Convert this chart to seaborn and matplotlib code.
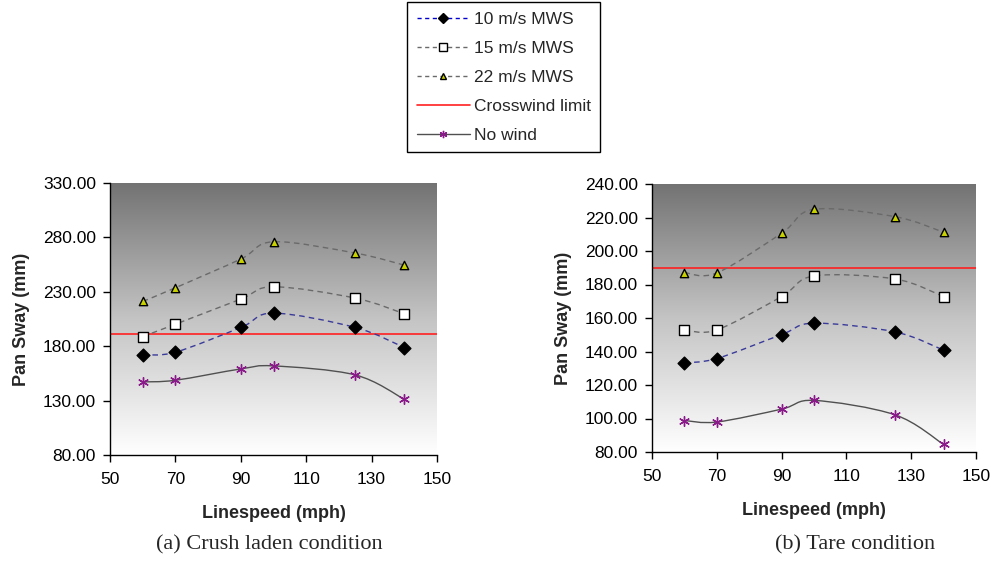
import numpy as np
import matplotlib
matplotlib.use("Agg")
import matplotlib.pyplot as plt
import seaborn as sns
import pandas as pd
from matplotlib.path import Path
from matplotlib.patches import PathPatch
from matplotlib.lines import Line2D
from matplotlib.colors import LinearSegmentedColormap
from matplotlib.ticker import FormatStrFormatter

sns.set_style("white")
plt.rcParams["font.family"] = ["Liberation Sans", "DejaVu Sans"]

linespeed = [60, 70, 90, 100, 125, 140]

crush_10 = [172.0, 174.5, 197.2, 210.4, 197.2, 178.8]
crush_15 = [188.9, 200.2, 223.3, 234.6, 224.2, 209.8]
crush_22 = [221.1, 233.7, 260.1, 276.0, 265.6, 254.5]
crush_nowind = [147.2, 148.7, 159.1, 161.9, 153.6, 131.2]
crush_limit = 191.0

tare_10 = [133.2, 135.8, 150.1, 156.9, 151.7, 140.8]
tare_15 = [152.9, 152.9, 172.8, 185.1, 183.3, 172.8]
tare_22 = [187.1, 186.9, 210.6, 224.9, 220.5, 211.2]
tare_nowind = [98.8, 97.9, 105.6, 110.8, 102.2, 84.5]
tare_limit = 190.0

x_ticks = [50, 70, 90, 110, 130, 150]
crush_yticks = [80, 130, 180, 230, 280, 330]
tare_yticks = [80, 100, 120, 140, 160, 180, 200, 220, 240]

series_labels = ["10 m/s MWS", "15 m/s MWS", "22 m/s MWS", "Crosswind limit", "No wind"]
captions = ["(a) Crush laden condition", "(b) Tare condition"]

C10 = "#3a3a9a"
CGRAY = "#6a6a6a"
CRED = "#ff2020"
CPURPLE = "#8a1a8a"

styles = {
    "10 m/s MWS": dict(line=C10, ls=(0, (4, 3)), marker="D", mfc="black", mec="black", ms=6.5),
    "15 m/s MWS": dict(line=CGRAY, ls=(0, (4, 3)), marker="s", mfc="white", mec="black", ms=7.5),
    "22 m/s MWS": dict(line=CGRAY, ls=(0, (4, 3)), marker="^", mfc="#c8d200", mec="black", ms=6),
    "No wind": dict(line="#505050", ls="-", marker=(6, 2, 0), mfc=CPURPLE, mec=CPURPLE, ms=7),
}


def smooth_path(x, y):
    """Excel-style smoothed line as cubic Bezier path through the data points."""
    pts = np.column_stack([x, y]).astype(float)
    n = len(pts)
    verts = [pts[0]]
    codes = [Path.MOVETO]
    for i in range(n - 1):
        p0 = pts[i - 1] if i > 0 else pts[i]
        p1 = pts[i]
        p2 = pts[i + 1]
        p3 = pts[i + 2] if i + 2 < n else pts[i + 1]
        c1 = p1 + (p2 - p0) / 6.0
        c2 = p2 - (p3 - p1) / 6.0
        verts += [c1, c2, p2]
        codes += [Path.CURVE4] * 3
    return Path(verts, codes)


def draw_panel(ax, data, limit, yticks):
    ylim = (yticks[0], yticks[-1])
    cmap = LinearSegmentedColormap.from_list("g", ["#737373", "#c4c4c4", "#ffffff"])
    grad = np.linspace(0, 1, 256).reshape(-1, 1)
    ax.imshow(grad, aspect="auto", cmap=cmap, extent=[50, 150, ylim[0], ylim[1]],
              origin="upper", zorder=0, vmin=0, vmax=1)
    ax.axhline(limit, color=CRED, lw=1.2, zorder=2)
    for name, vals in data.items():
        st = styles[name]
        patch = PathPatch(smooth_path(linespeed, vals), fill=False, edgecolor=st["line"],
                          lw=1.0, linestyle=st["ls"], transform=ax.transData, zorder=3)
        ax.add_patch(patch)
        df = pd.DataFrame({"x": linespeed, "y": vals})
        sns.scatterplot(data=df, x="x", y="y", ax=ax, marker=st["marker"],
                        color=st["mfc"], edgecolor=st["mec"], s=st["ms"] ** 2,
                        linewidth=1.0, zorder=4, legend=False)
    ax.set_xlim(50, 150)
    ax.set_ylim(*ylim)
    ax.set_xticks(x_ticks)
    ax.set_yticks(yticks)
    ax.yaxis.set_major_formatter(FormatStrFormatter("%.2f"))
    for s in ["top", "right"]:
        ax.spines[s].set_visible(False)
    for s in ["left", "bottom"]:
        ax.spines[s].set_color("black")
        ax.spines[s].set_linewidth(1.0)
    ax.tick_params(axis="both", direction="out", length=5, width=1, labelsize=12.5,
                   colors="black", left=True, bottom=True)
    ax.tick_params(axis="x", pad=7)
    ax.tick_params(axis="y", pad=5)
    ax.set_xlabel("Linespeed (mph)", fontsize=13, fontweight="bold", labelpad=13)
    ax.set_ylabel("Pan Sway (mm)", fontsize=13, fontweight="bold", labelpad=9)


fig = plt.figure(figsize=(9.93, 5.66), dpi=100)
ax1 = fig.add_axes([110 / 993, 1 - 455 / 566, 327 / 993, 272 / 566])
ax2 = fig.add_axes([652 / 993, 1 - 452 / 566, 324 / 993, 268 / 566])

draw_panel(ax1, {"10 m/s MWS": crush_10, "15 m/s MWS": crush_15,
                 "22 m/s MWS": crush_22, "No wind": crush_nowind},
           crush_limit, crush_yticks)
draw_panel(ax2, {"10 m/s MWS": tare_10, "15 m/s MWS": tare_15,
                 "22 m/s MWS": tare_22, "No wind": tare_nowind},
           tare_limit, tare_yticks)

fig.text(269 / 993, 1 - 545 / 566, captions[0], fontsize=16, family="Liberation Serif",
         ha="center", va="center")
fig.text(855 / 993, 1 - 545 / 566, captions[1], fontsize=16, family="Liberation Serif",
         ha="center", va="center")

handles = []
for name in series_labels:
    if name == "Crosswind limit":
        handles.append(Line2D([], [], color=CRED, lw=1.2))
    else:
        st = styles[name]
        lc = "#0000cc" if name == "10 m/s MWS" else st["line"]
        ls = (0, (3, 2.5)) if st["ls"] != "-" else "-"
        handles.append(Line2D([], [], color=lc, lw=1.0, linestyle=ls, marker=st["marker"],
                              mfc=st["mfc"], mec=st["mec"], ms=st["ms"] * 0.75))

leg = fig.legend(handles=handles, labels=series_labels, loc="upper left",
                 bbox_to_anchor=(407 / 993, 1 - 2 / 566), fontsize=12.5,
                 frameon=True, fancybox=False, edgecolor="black", framealpha=1,
                 handlelength=3.1, handletextpad=0.2, labelspacing=0.8,
                 borderpad=0.55, borderaxespad=0)
leg.get_frame().set_linewidth(1.0)

fig.savefig("out.png", dpi=100)
